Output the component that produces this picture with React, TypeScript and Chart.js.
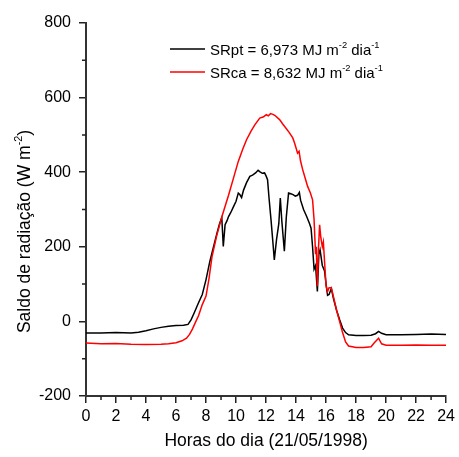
import React, { useEffect, useRef } from "react";
import { Chart, registerables } from "chart.js";

Chart.register(...registerables);

// ---- data ----
const ptHours = [0, 1, 2, 3, 3.5, 4, 4.5, 5, 5.5, 6, 6.5, 6.8, 7.0, 7.2, 7.5, 7.75, 8.0, 8.25, 8.5, 8.75, 8.9, 9.05, 9.15, 9.27, 9.4, 9.5, 9.65, 9.8, 10.0, 10.15, 10.25, 10.37, 10.5, 10.7, 10.92, 11.1, 11.3, 11.47, 11.6, 11.75, 11.9, 12.0, 12.1, 12.2, 12.33, 12.45, 12.55, 12.7, 12.85, 12.95, 13.05, 13.22, 13.35, 13.5, 13.65, 13.8, 13.95, 14.1, 14.22, 14.3, 14.5, 14.7, 14.9, 15.0, 15.1, 15.2, 15.3, 15.42, 15.52, 15.6, 15.75, 15.9, 16.0, 16.1, 16.2, 16.35, 16.5, 16.7, 16.9, 17.1, 17.3, 17.5, 18, 18.5, 19, 19.3, 19.5, 19.7, 20, 21, 22, 23, 24];
const ptValues = [-31, -31, -30, -31, -29, -25, -20, -16, -13, -11, -10, -8, 4, 22, 50, 72, 112, 160, 200, 240, 262, 278, 201, 259, 270, 281, 292, 305, 322, 344, 340, 332, 352, 372, 389, 392, 398, 405, 401, 397, 398, 390, 380, 330, 273, 215, 165, 220, 262, 331, 270, 188, 280, 344, 342, 340, 336, 338, 346, 325, 300, 282, 262, 250, 200, 140, 150, 80, 180, 192, 150, 135, 100, 70, 72, 88, 60, 30, 5, -18, -30, -36, -38, -38, -37, -33, -27, -32, -36, -36, -35, -34, -35];

const caHours = [0, 1, 2, 3, 4, 5, 5.5, 6, 6.4, 6.7, 6.9, 7.1, 7.3, 7.5, 7.75, 8.0, 8.2, 8.4, 8.7, 9.05, 9.5, 9.8, 10.15, 10.45, 10.7, 11.0, 11.25, 11.58, 11.8, 12.02, 12.15, 12.3, 12.46, 12.6, 12.9, 13.1, 13.33, 13.55, 13.78, 13.9, 14.0, 14.1, 14.2, 14.3, 14.44, 14.6, 14.77, 14.95, 15.1, 15.2, 15.3, 15.35, 15.42, 15.5, 15.57, 15.65, 15.75, 15.82, 15.9, 16.0, 16.1, 16.2, 16.35, 16.5, 16.7, 16.9, 17.1, 17.3, 17.5, 18, 18.5, 19.0, 19.2, 19.5, 19.7, 20, 21, 22, 23, 24];
const caValues = [-58, -60, -59, -61, -62, -61, -60, -57, -52, -45, -35, -20, -2, 15, 45, 68, 115, 174, 228, 280, 338, 380, 429, 462, 487, 510, 527, 545, 548, 554, 551, 557, 555, 552, 541, 530, 518, 506, 492, 478, 465, 451, 456, 430, 407, 385, 362, 345, 326, 273, 180, 200, 94, 200, 259, 225, 200, 213, 160, 95, 80, 90, 90, 65, 30, 0, -30, -55, -66, -70, -70, -68, -58, -45, -60, -64, -64, -63, -64, -64];

const xMajorStep = 2;
const xMinorTicks = [1, 3, 5, 7, 9, 11, 13, 15, 17, 19, 21, 23];
const yMinorTicks = [-100, 100, 300, 500, 700];

const legendItems = [
  { color: "#000000", parts: [{ t: "SRpt = 6,973 MJ m" }, { t: "-2", sup: true }, { t: " dia" }, { t: "-1", sup: true }] },
  { color: "#ff0000", parts: [{ t: "SRca = 8,632 MJ m" }, { t: "-2", sup: true }, { t: " dia" }, { t: "-1", sup: true }] },
];
const yTitleParts = [{ t: "Saldo de radiação (W m" }, { t: "-2", sup: true }, { t: ")" }];
const xTitle = "Horas do dia (21/05/1998)";

const FAMILY = "'Liberation Sans', Arial, Helvetica, sans-serif";

type Part = { t: string; sup?: boolean };

function richWidth(ctx: CanvasRenderingContext2D, parts: Part[], size: number) {
  let w = 0;
  for (const p of parts) {
    ctx.font = `${p.sup ? size * 0.62 : size}px ${FAMILY}`;
    w += ctx.measureText(p.t).width;
  }
  return w;
}

function drawRich(ctx: CanvasRenderingContext2D, parts: Part[], x: number, y: number, size: number) {
  let cx = x;
  ctx.textBaseline = "alphabetic";
  ctx.textAlign = "left";
  for (const p of parts) {
    const s = p.sup ? size * 0.62 : size;
    ctx.font = `${s}px ${FAMILY}`;
    ctx.fillText(p.t, cx, p.sup ? y - size * 0.42 : y);
    cx += ctx.measureText(p.t).width;
  }
}

const decorPlugin = {
  id: "decor",
  afterDraw(chart: any) {
    const ctx: CanvasRenderingContext2D = chart.ctx;
    const xs = chart.scales.x;
    const ys = chart.scales.y;
    const area = chart.chartArea;
    ctx.save();
    // minor ticks
    ctx.strokeStyle = "#222";
    ctx.lineWidth = 1.5;
    ctx.beginPath();
    for (const h of xMinorTicks) {
      const px = xs.getPixelForValue(h);
      ctx.moveTo(px, area.bottom);
      ctx.lineTo(px, area.bottom + 4);
    }
    for (const v of yMinorTicks) {
      const py = ys.getPixelForValue(v);
      ctx.moveTo(area.left, py);
      ctx.lineTo(area.left - 4, py);
    }
    ctx.stroke();

    // legend
    const size = 15;
    legendItems.forEach((it, i) => {
      const cy = 49 + i * 23;
      ctx.strokeStyle = it.color;
      ctx.lineWidth = 1.5;
      ctx.beginPath();
      ctx.moveTo(170, cy);
      ctx.lineTo(205, cy);
      ctx.stroke();
      ctx.fillStyle = "#000";
      drawRich(ctx, it.parts, 210, cy + 5.5, size);
    });

    // y title
    const ts = 17.5;
    const w = richWidth(ctx, yTitleParts, ts);
    ctx.translate(29.5, 231.5);
    ctx.rotate(-Math.PI / 2);
    ctx.fillStyle = "#000";
    drawRich(ctx, yTitleParts, -w / 2, 0, ts);
    ctx.restore();
  },
};

export default function App() {
  const ref = useRef<HTMLCanvasElement | null>(null);
  useEffect(() => {
    if (!ref.current) return;
    const tickFont = { family: FAMILY, size: 16 };
    const chart = new Chart(ref.current, {
      type: "line",
      data: {
        datasets: [
          {
            label: "SRpt",
            data: ptHours.map((h, i) => ({ x: h, y: ptValues[i] })),
            borderColor: "#000000",
            borderWidth: 1.5,
            pointRadius: 0,
            tension: 0,
            order: 1,
          },
          {
            label: "SRca",
            data: caHours.map((h, i) => ({ x: h, y: caValues[i] })),
            borderColor: "#ff0000",
            borderWidth: 1.5,
            pointRadius: 0,
            tension: 0,
            order: 0,
          },
        ],
      },
      options: {
        animation: false,
        responsive: false,
        events: [],
        layout: { padding: { top: 23, right: 9, left: 0, bottom: 0 } },
        plugins: { legend: { display: false }, tooltip: { enabled: false } },
        scales: {
          x: {
            type: "linear",
            min: 0,
            max: 24,
            ticks: {
              stepSize: xMajorStep,
              autoSkip: false,
              maxRotation: 0,
              padding: 4,
              color: "#000",
              font: tickFont,
              callback: (v: any) => String(v),
            },
            grid: { display: true, drawOnChartArea: false, drawTicks: true, tickLength: 7, color: "#222", lineWidth: 1.5 },
            border: { display: true, color: "#333", width: 2 },
            title: { display: true, text: xTitle, color: "#000", font: { family: FAMILY, size: 17.5 }, padding: { top: 0, bottom: 5 } },
            afterFit: (s: any) => { s.height = 61; },
          },
          y: {
            type: "linear",
            min: -200,
            max: 800,
            ticks: {
              stepSize: 200,
              padding: 8,
              color: "#000",
              font: tickFont,
              callback: (v: any) => String(v),
            },
            grid: { display: true, drawOnChartArea: false, drawTicks: true, tickLength: 7, color: "#222", lineWidth: 1.5 },
            border: { display: true, color: "#333", width: 2 },
            afterFit: (s: any) => { s.width = 86; },
          },
        },
      },
      plugins: [decorPlugin],
    } as any);
    return () => chart.destroy();
  }, []);
  return (
    <div style={{ position: "absolute", left: 0, top: 0, width: 459, height: 457, background: "#fff" }}>
      <canvas ref={ref} width={459} height={457} style={{ width: 459, height: 457, display: "block" }} />
    </div>
  );
}
